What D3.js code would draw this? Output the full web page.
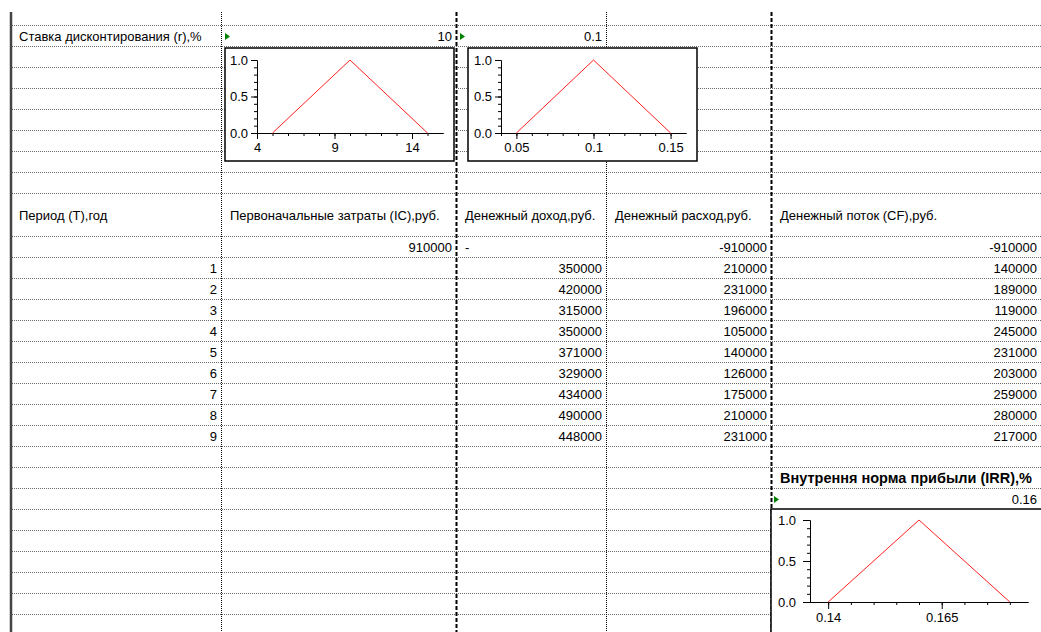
<!DOCTYPE html>
<html>
<head>
<meta charset="utf-8">
<script src="https://cdn.jsdelivr.net/npm/d3@7"></script>
<style>
  body { margin: 0; background: #fff; }
  svg { display: block; font-family: "Liberation Sans", Arial, sans-serif; font-size: 13px; }
</style>
</head>
<body>
<svg width="1041" height="632"></svg>
<script>
// Данные таблицы
const periods = [1, 2, 3, 4, 5, 6, 7, 8, 9];
const income = [350000, 420000, 315000, 350000, 371000, 329000, 434000, 490000, 448000];
const expense = [210000, 231000, 196000, 105000, 140000, 126000, 175000, 210000, 231000];
const cashFlow = [140000, 189000, 119000, 245000, 231000, 203000, 259000, 280000, 217000];
const headers = [
  "Период (T),год",
  "Первоначальные затраты (IC),руб.",
  "Денежный доход,руб.",
  "Денежный расход,руб.",
  "Денежный поток (CF),руб."
];
const initialRow = ["", "910000", "-", "-910000", "-910000"];

// Треугольные нечёткие числа
const membership = [0, 1, 0];
const rateTri = [5, 10, 15];
const rateFracTri = [0.05, 0.1, 0.15];
const irrTri = [0.14, 0.16, 0.18];
const rateTicks = [4, 9, 14];
const rateFracTicks = [0.05, 0.1, 0.15];
const irrTicks = [0.14, 0.165];
const yTicks = [0, 0.5, 1];

const svg = d3.select("svg");
const width = 1041;
const height = 632;

// Сетка: колонки и строки
const colX = [10, 221, 456, 606, 771, width];
const rowY = d3.range(9).map((i) => 25 + 21 * i).concat(d3.range(19).map((i) => 236 + 21 * i));

svg.append("rect").attr("width", width).attr("height", height).attr("fill", "#fff");

svg
  .selectAll(".hline")
  .data(rowY)
  .join("line")
  .attr("x1", 12)
  .attr("x2", width)
  .attr("y1", (d) => d + 0.5)
  .attr("y2", (d) => d + 0.5)
  .attr("stroke", "#6a6a6a")
  .attr("stroke-dasharray", "1,1");

const vlines = [
  { x: colX[1], dashed: false },
  { x: colX[2], dashed: true },
  { x: colX[3], dashed: false },
  { x: colX[4], dashed: true }
];
svg
  .selectAll(".vline")
  .data(vlines)
  .join("line")
  .attr("x1", (d) => d.x + 0.5)
  .attr("x2", (d) => d.x + 0.5)
  .attr("y1", 12)
  .attr("y2", height)
  .attr("stroke", "#000")
  .attr("stroke-width", (d) => (d.dashed ? 2 : 1))
  .attr("stroke-dasharray", (d) => (d.dashed ? "4,2" : "1,1"));

svg
  .append("line")
  .attr("x1", 11)
  .attr("x2", 11)
  .attr("y1", 12)
  .attr("y2", height)
  .attr("stroke", "#444")
  .attr("stroke-width", 2.5);

// Текст ячейки
function cell(col, top, text, align, h = 21) {
  const right = align === "right";
  svg
    .append("text")
    .attr("x", right ? colX[col + 1] - 4 : colX[col] + 9)
    .attr("y", top + h / 2 + 5)
    .attr("text-anchor", right ? "end" : "start")
    .attr("fill", "#000")
    .text(text);
}

function marker(x, top) {
  svg
    .append("path")
    .attr("d", `M${x},${top + 8}L${x + 5},${top + 11.5}L${x},${top + 15}Z`)
    .attr("fill", "#008000");
}

// Верхняя строка: ставка дисконтирования
cell(0, 25, "Ставка дисконтирования (r),%", "left");
cell(1, 25, "10", "right");
cell(2, 25, "0.1", "right");
marker(colX[1] + 4, 25);
marker(colX[2] + 4, 25);

// Заголовки
headers.forEach((h, i) => cell(i, 193, h, "left", 43));

// Нулевой период
initialRow.forEach((v, i) => {
  if (v) cell(i, 236, v, v === "-" ? "left" : "right");
});

// Периоды 1..9
periods.forEach((p, i) => {
  const top = 257 + 21 * i;
  cell(0, top, p, "right");
  cell(2, top, income[i], "right");
  cell(3, top, expense[i], "right");
  cell(4, top, cashFlow[i], "right");
});

// IRR
svg
  .append("text")
  .attr("x", colX[4] + 9)
  .attr("y", 467 + 16)
  .attr("font-weight", "bold")
  .attr("font-size", 14.5)
  .text("Внутрення норма прибыли (IRR),%");
cell(4, 488, "0.16", "right");
marker(colX[4] + 3, 488);

/**
 * Маленький график функции принадлежности
 */
function fuzzyChart(box, tri, domain, major, minor, fmt) {
  const g = svg.append("g").attr("transform", `translate(${box.x},${box.y})`);
  g.append("rect")
    .attr("width", box.w)
    .attr("height", box.h)
    .attr("fill", "#fff")
    .attr("stroke", "#000")
    .attr("stroke-width", 1.5);

  const x = d3.scaleLinear().domain(domain).range([box.pl, box.pl + box.pw]);
  const y = d3.scaleLinear().domain([0, 1]).range([box.pt + box.ph, box.pt]);

  const xg = g.append("g").attr("transform", `translate(0,${y(0)})`);
  xg.append("g").call(d3.axisBottom(x).tickValues(minor).tickSize(3).tickFormat("").tickSizeOuter(0));
  xg.append("g").call(
    d3.axisBottom(x).tickValues(major).tickSize(box.ts).tickPadding(4).tickFormat(fmt).tickSizeOuter(0)
  );

  const yg = g.append("g").attr("transform", `translate(${box.pl},0)`);
  yg.append("g").call(d3.axisLeft(y).ticks(10).tickSize(3).tickFormat("").tickSizeOuter(0));
  yg.append("g").call(
    d3.axisLeft(y).tickValues(yTicks).tickSize(box.ts).tickPadding(box.tp).tickFormat(d3.format(".1f")).tickSizeOuter(0)
  );

  g.selectAll(".tick text").attr("font-family", null).attr("font-size", 13).attr("fill", "#000");
  g.selectAll(".domain, .tick line").attr("stroke", "#000");

  g.append("path")
    .datum(tri)
    .attr("fill", "none")
    .attr("stroke", "#ff2020")
    .attr("stroke-width", 1)
    .attr("d", d3.line().x((d) => x(d)).y((d, i) => y(membership[i])));
}

fuzzyChart(
  { x: 225, y: 48, w: 229, h: 113, pl: 32, pt: 12, pw: 186, ph: 73, ts: 6, tp: 3 },
  rateTri,
  [4, 16],
  rateTicks,
  d3.range(4, 16),
  d3.format("d")
);
fuzzyChart(
  { x: 468, y: 48, w: 229, h: 113, pl: 33, pt: 12, pw: 185, ph: 73, ts: 6, tp: 3 },
  rateFracTri,
  [0.04, 0.16],
  rateFracTicks,
  d3.range(4, 16).map((d) => d / 100),
  (d) => String(+d.toFixed(3))
);
fuzzyChart(
  { x: 771, y: 509, w: 272, h: 130, pl: 39, pt: 11, pw: 218, ph: 82, ts: 7, tp: 7 },
  irrTri,
  [0.136, 0.184],
  irrTicks,
  d3.range(28, 37).map((d) => d * 0.005),
  (d) => String(+d.toFixed(3))
);
</script>
</body>
</html>
